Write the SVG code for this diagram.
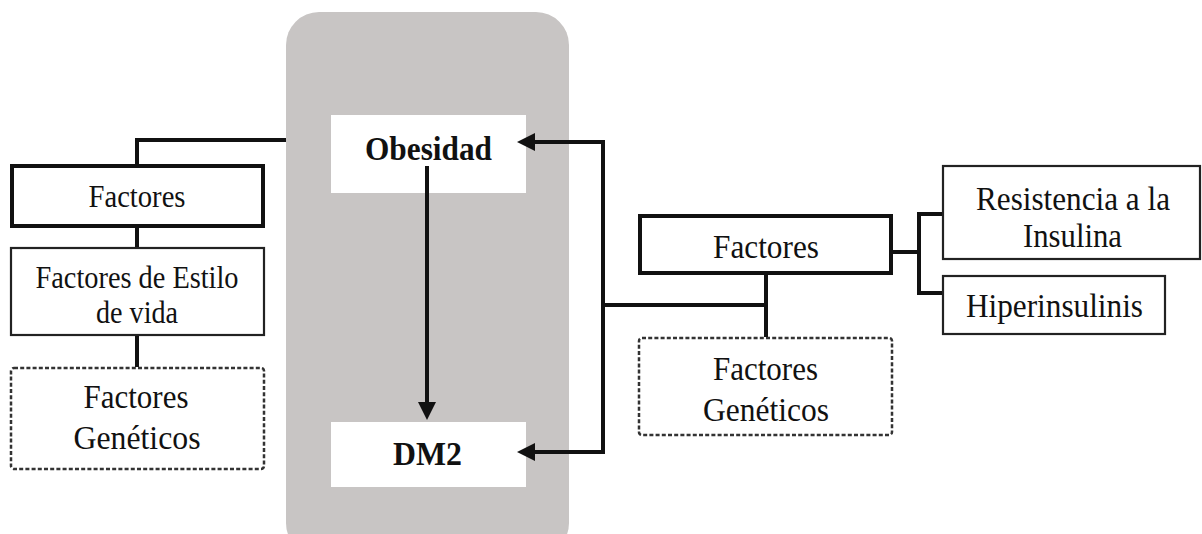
<svg xmlns="http://www.w3.org/2000/svg" width="1202" height="534" viewBox="0 0 1202 534">
  <style>
    .t { font-family: "Liberation Serif", "Times New Roman", serif; fill: #111; text-anchor: middle; }
    .b { font-weight: bold; }
    .thick { fill: #fff; stroke: #111; stroke-width: 4; }
    .thin { fill: #fff; stroke: #222; stroke-width: 2.2; }
    .dash { fill: #fff; stroke: #333; stroke-width: 2.5; stroke-dasharray: 4 2.2; }
    .conn { fill: none; stroke: #111; stroke-width: 4; stroke-linejoin: miter; }
  </style>
  <defs>
    <marker id="arrow" markerUnits="userSpaceOnUse" markerWidth="18" markerHeight="18" refX="0" refY="9" orient="auto" viewBox="0 0 18 18">
      <path d="M0,0 L18,9 L0,18 z" fill="#111"/>
    </marker>
  </defs>

  <rect width="1202" height="534" fill="#fff"/>

  <!-- central band -->
  <rect id="panel" x="286" y="12" width="283" height="544" rx="33" ry="33" fill="#c8c5c4"/>

  <!-- left column -->
  <g id="factores-left">
    <rect class="thick" x="12" y="166" width="251" height="60"/>
    <text class="t" x="137" y="207" font-size="32" textLength="97" lengthAdjust="spacingAndGlyphs">Factores</text>
  </g>
  <g id="estilo-vida">
    <rect class="thin" x="11" y="248" width="253" height="87"/>
    <text class="t" x="137" y="288" font-size="32" textLength="203" lengthAdjust="spacingAndGlyphs">Factores de Estilo</text>
    <text class="t" x="137" y="323" font-size="32" textLength="82" lengthAdjust="spacingAndGlyphs">de vida</text>
  </g>
  <g id="geneticos-left">
    <rect class="dash" x="11" y="368" width="253" height="101" rx="3"/>
    <text class="t" x="136" y="408" font-size="34" textLength="105" lengthAdjust="spacingAndGlyphs">Factores</text>
    <text class="t" x="137" y="449" font-size="34" textLength="127" lengthAdjust="spacingAndGlyphs">Genéticos</text>
  </g>

  <!-- central nodes -->
  <g id="obesidad">
    <rect x="331" y="115" width="195" height="78" fill="#fff"/>
    <text class="t b" x="428.5" y="160" font-size="34" textLength="127" lengthAdjust="spacingAndGlyphs">Obesidad</text>
  </g>
  <g id="dm2">
    <rect x="331" y="422" width="195" height="65" fill="#fff"/>
    <text class="t b" x="427.5" y="465" font-size="34" textLength="69" lengthAdjust="spacingAndGlyphs">DM2</text>
  </g>

  <!-- right column -->
  <g id="factores-right">
    <rect class="thick" x="640" y="216" width="251" height="57"/>
    <text class="t" x="766" y="258" font-size="34" textLength="106" lengthAdjust="spacingAndGlyphs">Factores</text>
  </g>
  <g id="geneticos-right">
    <rect class="dash" x="639" y="338" width="253" height="97" rx="3"/>
    <text class="t" x="765.5" y="380" font-size="34" textLength="105" lengthAdjust="spacingAndGlyphs">Factores</text>
    <text class="t" x="766" y="421" font-size="34" textLength="126" lengthAdjust="spacingAndGlyphs">Genéticos</text>
  </g>
  <g id="resistencia">
    <rect class="thin" x="943" y="166" width="257" height="93" stroke="#333" stroke-width="2.5"/>
    <text class="t" x="1073" y="210" font-size="34" textLength="194" lengthAdjust="spacingAndGlyphs">Resistencia a la</text>
    <text class="t" x="1072.5" y="247" font-size="34" textLength="99" lengthAdjust="spacingAndGlyphs">Insulina</text>
  </g>
  <g id="hiperinsulinis">
    <rect class="thin" x="943" y="276" width="222" height="58" stroke="#333" stroke-width="2.5"/>
    <text class="t" x="1054.5" y="317" font-size="34" textLength="177" lengthAdjust="spacingAndGlyphs">Hiperinsulinis</text>
  </g>

  <!-- connectors, drawn over the boxes so arrow tails and tips stay visible -->
  <g id="connectors">
    <path class="conn" d="M286,140 H137 V164"/>
    <path class="conn" d="M137,228 V247"/>
    <path class="conn" d="M137,336 V367"/>
    <path class="conn" d="M427,166 V402" marker-end="url(#arrow)"/>
    <path class="conn" d="M603,305 V142 H535" marker-end="url(#arrow)"/>
    <path class="conn" d="M603,305 V452 H535" marker-end="url(#arrow)"/>
    <path class="conn" d="M601,305 H766"/>
    <path class="conn" d="M766,275 V337"/>
    <path class="conn" d="M893,252 H919"/>
    <path class="conn" d="M942,214 H919 V293 H942"/>
  </g>
</svg>
